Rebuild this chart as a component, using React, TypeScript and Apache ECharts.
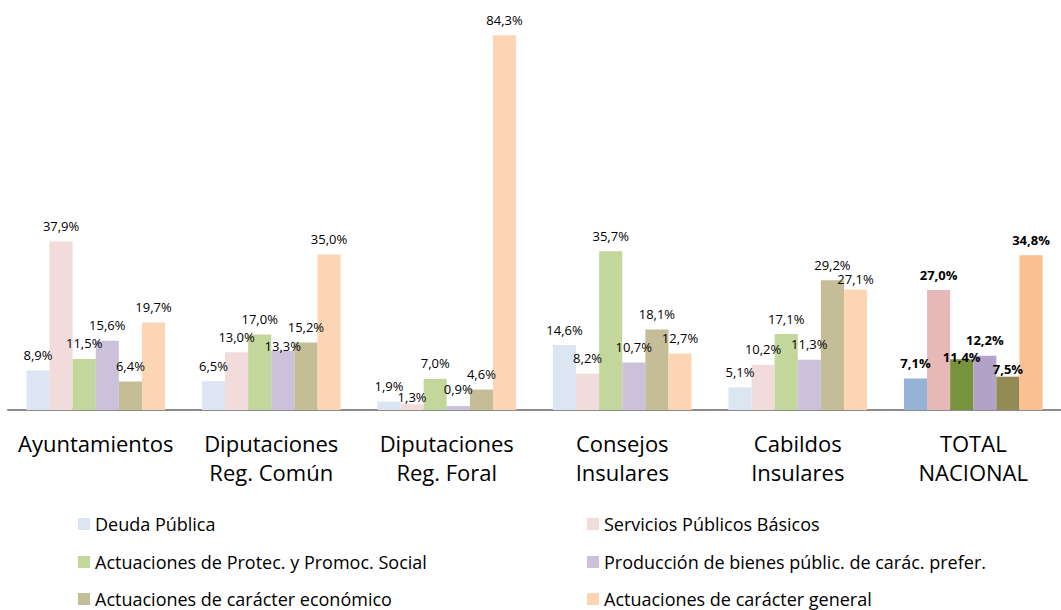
import React, { useEffect, useRef } from "react";
import * as echarts from "echarts";

const categories = [
  "Ayuntamientos",
  "Diputaciones\nReg. Común",
  "Diputaciones\nReg. Foral",
  "Consejos\nInsulares",
  "Cabildos\nInsulares",
  "TOTAL\nNACIONAL",
];

const seriesNames = [
  "Deuda Pública",
  "Servicios Públicos Básicos",
  "Actuaciones de Protec. y Promoc. Social",
  "Producción de bienes públic. de carác. prefer.",
  "Actuaciones de carácter económico",
  "Actuaciones de carácter general",
];

const deudaPublica = [8.9, 6.5, 1.9, 14.6, 5.1, 7.1];
const serviciosBasicos = [37.9, 13.0, 1.3, 8.2, 10.2, 27.0];
const protecSocial = [11.5, 17.0, 7.0, 35.7, 17.1, 11.4];
const bienesPreferentes = [15.6, 13.3, 0.9, 10.7, 11.3, 12.2];
const caracterEconomico = [6.4, 15.2, 4.6, 18.1, 29.2, 7.5];
const caracterGeneral = [19.7, 35.0, 84.3, 12.7, 27.1, 34.8];

const seriesValues = [
  deudaPublica,
  serviciosBasicos,
  protecSocial,
  bienesPreferentes,
  caracterEconomico,
  caracterGeneral,
];

const lightColors = ["#dce6f2", "#f2dcdb", "#c3d69b", "#ccc1da", "#c4bd97", "#fcd5b5"];
const totalColors = ["#95b3d7", "#e6b9b8", "#77933c", "#b3a2c7", "#948a54", "#fac090"];

// label vertical nudges (px) as placed in the reference: "seriesIndex-categoryIndex"
const labelNudges: Record<string, number> = {
  "3-1": 11,
  "2-5": 13,
  "4-5": 8,
  "1-2": 8,
  "5-4": 5,
  "3-2": -2,
};

const FONT = "Open Sans";

export default function App() {
  const ref = useRef<HTMLDivElement>(null);

  useEffect(() => {
    if (!ref.current) return;
    const chart = echarts.init(ref.current, undefined, { renderer: "svg" });
    const lastIdx = categories.length - 1;

    const series = seriesNames.map((name, si) => ({
      name,
      type: "bar" as const,
      barGap: "0%",
      barCategoryGap: "21%",
      itemStyle: { color: lightColors[si] },
      label: {
        show: true,
        position: "top" as const,
        distance: 9,
        fontFamily: FONT,
        fontSize: 13,
        color: "#000",
        formatter: (p: any) => p.value.toFixed(1).replace(".", ",") + "%",
      },
      data: seriesValues[si].map((v, ci) => {
        const nudge = labelNudges[`${si}-${ci}`] || 0;
        const label: any = {};
        if (nudge) label.offset = [0, nudge];
        if (ci === lastIdx) label.fontWeight = "bold";
        const item: any = { value: v, label };
        if (ci === lastIdx) item.itemStyle = { color: totalColors[si] };
        return item;
      }),
    }));

    const legendPos = [
      { left: 78, top: 514 },
      { left: 587, top: 514 },
      { left: 78, top: 552 },
      { left: 587, top: 552 },
      { left: 78, top: 589 },
      { left: 587, top: 589 },
    ];

    const legends = seriesNames.map((name, i) => ({
      orient: "horizontal" as const,
      icon: "rect",
      itemWidth: 12,
      itemHeight: 12,
      itemGap: 0,
      left: legendPos[i].left,
      top: legendPos[i].top,
      selectedMode: false,
      padding: 0,
      textStyle: {
        fontFamily: FONT,
        fontSize: 18,
        lineHeight: 20,
        color: "#000",
      },
      data: [name],
    }));

    chart.setOption({
      animation: false,
      textStyle: { fontFamily: FONT },
      grid: { left: 8, right: 0, top: 10, bottom: 200, containLabel: false },
      xAxis: {
        type: "category",
        data: categories,
        axisLine: { lineStyle: { color: "#8c8c8c", width: 2 } },
        axisTick: { show: false },
        axisLabel: {
          fontFamily: FONT,
          fontSize: 22,
          lineHeight: 29,
          color: "#000",
          margin: 18,
          interval: 0,
        },
      },
      yAxis: {
        type: "value",
        min: 0,
        max: 90,
        show: false,
        splitLine: { show: false },
      },
      legend: legends,
      series,
    });

    return () => chart.dispose();
  }, []);

  return <div ref={ref} style={{ width: 1061, height: 610, position: "absolute", left: 0, top: 0 }} />;
}
